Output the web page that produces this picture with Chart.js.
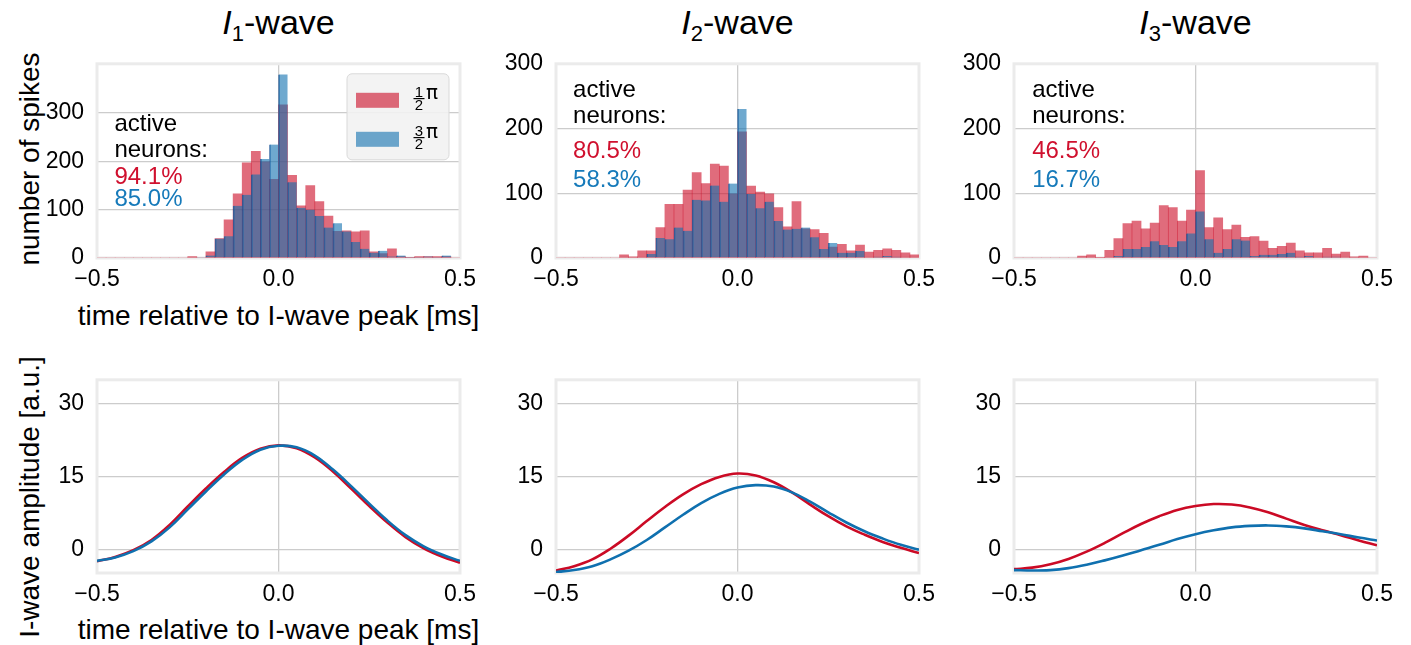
<!DOCTYPE html>
<html>
<head>
<meta charset="utf-8">
<script src="https://cdn.jsdelivr.net/npm/chart.js@4.4.0/dist/chart.umd.min.js"></script>
<style>
    body { margin: 0; background: #fff; font-family: "Liberation Sans", Arial, sans-serif; }
    #wrap { position: relative; width: 1411px; height: 645px; overflow: hidden; }
    #wrap canvas { position: absolute; }
    .ttl { position: absolute; top: 3px; width: 363px; text-align: center; font-size: 34px; line-height: 38px; color: #000; white-space: nowrap; }
    .ttl sub { font-size: 22px; vertical-align: -7px; line-height: 0; }
    .xlab { position: absolute; width: 463px; text-align: center; font-size: 28px; line-height: 32px; color: #000; white-space: nowrap; }
    .ylab { position: absolute; width: 320px; text-align: center; font-size: 28px; line-height: 32px; color: #000; white-space: nowrap; transform: rotate(-90deg); }
</style>
</head>
<body>
<div id="wrap">
    <div class="ttl" style="left:97px"><i>I</i><sub>1</sub>-wave</div>
    <div class="ttl" style="left:556px"><i>I</i><sub>2</sub>-wave</div>
    <div class="ttl" style="left:1014px"><i>I</i><sub>3</sub>-wave</div>
    <div class="xlab" style="left:47px; top:300px">time relative to I-wave peak [ms]</div>
    <div class="xlab" style="left:47px; top:614px">time relative to I-wave peak [ms]</div>
    <div class="ylab" style="left:-130px; top:143px">number of spikes</div>
    <div class="ylab" style="left:-130px; top:481px">I-wave amplitude [a.u.]</div>
</div>
<script>
// Spike time histograms (bins of 0.025 ms) and I-wave amplitude curves

const binCenters = [-0.4875, -0.4625, -0.4375, -0.4125, -0.3875, -0.3625, -0.3375, -0.3125, -0.2875, -0.2625,
    -0.2375, -0.2125, -0.1875, -0.1625, -0.1375, -0.1125, -0.0875, -0.0625, -0.0375, -0.0125,
    0.0125, 0.0375, 0.0625, 0.0875, 0.1125, 0.1375, 0.1625, 0.1875, 0.2125, 0.2375,
    0.2625, 0.2875, 0.3125, 0.3375, 0.3625, 0.3875, 0.4125, 0.4375, 0.4625, 0.4875];

// counts for stimulation phase 1/2 pi (red) and 3/2 pi (blue)
const i1Half = [0, 0, 0, 0, 0, 0, 0, 0, 0, 0, 3, 0, 13, 40, 79, 133, 197, 221, 199, 163,
    317, 171, 108, 150, 117, 87, 55, 56, 54, 56, 13, 9, 19, 3, 1, 3, 3, 3, 3, 0];
const i1ThreeHalf = [0, 0, 0, 0, 0, 0, 0, 0, 0, 0, 0, 1, 5, 40, 45, 108, 131, 173, 205, 235,
    380, 157, 104, 100, 87, 63, 72, 55, 33, 19, 11, 15, 3, 5, 1, 1, 3, 1, 5, 0];
const i2Half = [0, 0, 0, 0, 0, 0, 0, 5, 2, 11, 11, 47, 83, 83, 105, 132, 115, 145, 142, 99,
    195, 111, 102, 99, 78, 48, 87, 45, 44, 38, 17, 21, 11, 20, 9, 12, 14, 12, 8, 5];
const i2ThreeHalf = [0, 0, 0, 0, 0, 0, 0, 0, 0, 1, 6, 31, 29, 47, 42, 90, 89, 112, 87, 115,
    230, 99, 77, 87, 57, 44, 45, 47, 32, 14, 23, 8, 8, 11, 1, 2, 3, 2, 0, 0];
const i3Half = [0, 0, 0, 0, 0, 0, 0, 3, 5, 1, 12, 30, 53, 57, 45, 54, 81, 78, 57, 74,
    135, 47, 62, 44, 51, 32, 33, 26, 15, 18, 23, 11, 8, 8, 15, 6, 9, 2, 3, 0];
const i3ThreeHalf = [0, 0, 0, 0, 0, 0, 0, 0, 0, 1, 0, 3, 14, 14, 17, 26, 20, 17, 26, 38,
    72, 29, 8, 14, 29, 27, 3, 5, 5, 6, 8, 2, 3, 1, 2, 2, 0, 0, 0, 1];

const activeHalf = ['94.1%', '80.5%', '46.5%'];
const activeThreeHalf = ['85.0%', '58.3%', '16.7%'];

const waveTimes = [-0.5, -0.45, -0.4, -0.35, -0.3, -0.25, -0.2, -0.15, -0.1, -0.05, 0,
    0.05, 0.1, 0.15, 0.2, 0.25, 0.3, 0.35, 0.4, 0.45, 0.5];
const w1Half = [-2.4, -1.5, -0.1, 2.0, 5.1, 8.9, 12.6, 16.0, 18.9, 20.8, 21.5,
    20.9, 19.0, 16.1, 12.6, 9.0, 5.6, 2.6, 0.3, -1.4, -2.7];
const w1ThreeHalf = [-2.3, -1.6, -0.3, 1.7, 4.6, 8.3, 12.0, 15.5, 18.5, 20.6, 21.4,
    21.1, 19.4, 16.5, 13.1, 9.5, 6.0, 3.0, 0.7, -1.0, -2.3];
const w2Half = [-4.3, -3.4, -2.0, 0.2, 2.9, 5.9, 8.8, 11.4, 13.5, 15.0, 15.7,
    15.3, 13.9, 11.8, 9.3, 6.9, 4.8, 3.1, 1.6, 0.4, -0.7];
const w2ThreeHalf = [-4.6, -4.2, -3.4, -2.0, -0.2, 2.0, 4.6, 7.2, 9.6, 11.5, 12.8,
    13.3, 13.0, 11.8, 9.9, 7.7, 5.6, 3.8, 2.3, 1.0, 0.0];
const w3Half = [-4.0, -3.7, -3.0, -1.9, -0.4, 1.4, 3.4, 5.3, 6.9, 8.2, 9.0,
    9.4, 9.3, 8.7, 7.7, 6.4, 5.1, 4.0, 3.0, 1.9, 0.9];
const w3ThreeHalf = [-4.2, -4.3, -4.2, -3.8, -3.1, -2.2, -1.2, -0.1, 1.0, 2.2, 3.2,
    4.0, 4.6, 4.9, 5.0, 4.8, 4.4, 3.8, 3.2, 2.5, 1.9];

const xTicks = [-0.5, 0, 0.5];
const histTicks = [0, 100, 200, 300];
const waveTicks = [0, 15, 30];

// colours
const RED = 'rgb(203, 10, 37)';
const BLUE = 'rgb(15, 112, 175)';
const RED_BAR = 'rgba(203, 10, 37, 0.6)';
const BLUE_BAR = 'rgba(15, 112, 175, 0.6)';
const BLUE_EDGE = 'rgba(20, 80, 150, 0.75)';
const RED_TXT = 'rgb(208, 16, 46)';
const BLUE_TXT = 'rgb(22, 122, 186)';

// layout of the 2 x 3 grid (plot areas in page pixels)
const COL_X = [97, 556, 1014];
const PLOT_W = 363;
const ROWS = [{ top: 57, bottom: 258 }, { top: 373, bottom: 573 }];
const PAD_L = 75, PAD_T = 20, PAD_R = 30, PAD_B = 50;

Chart.defaults.font.family = '"Liberation Sans", Arial, sans-serif';
Chart.defaults.color = '#000';

const fmtX = v => (v < 0 ? '\u2212' : '') + Math.abs(v).toFixed(1);

// light frame round each plot area
const framePlugin = {
    id: 'frame',
    beforeDatasetsDraw(chart) {
        const a = chart.chartArea;
        const ctx = chart.ctx;
        ctx.save();
        ctx.strokeStyle = '#ebebeb';
        ctx.lineWidth = 3;
        ctx.strokeRect(a.left, a.top, a.right - a.left, a.bottom - a.top);
        ctx.restore();
    }
};

// "active neurons" text inside the histograms
const notesPlugin = {
    id: 'notes',
    afterDatasetsDraw(chart, args, opts) {
        if (!opts.lines) return;
        const ctx = chart.ctx;
        const x = chart.scales.x.getPixelForValue(opts.x);
        ctx.save();
        ctx.font = '24px "Liberation Sans", Arial, sans-serif';
        ctx.textAlign = 'left';
        ctx.textBaseline = 'alphabetic';
        opts.lines.forEach(l => {
            ctx.fillStyle = l.color;
            ctx.fillText(l.text, x, chart.scales.y.getPixelForValue(l.y));
        });
        ctx.restore();
    }
};

// legend with stacked fractions (1/2 pi, 3/2 pi)
const fracLegendPlugin = {
    id: 'fracLegend',
    afterDraw(chart, args, opts) {
        if (!opts.show) return;
        const ctx = chart.ctx;
        const a = chart.chartArea;
        const bx = a.right - 113, by = a.top + 10, bw = 102, bh = 86, r = 5;
        ctx.save();
        ctx.beginPath();
        ctx.moveTo(bx + r, by);
        ctx.arcTo(bx + bw, by, bx + bw, by + bh, r);
        ctx.arcTo(bx + bw, by + bh, bx, by + bh, r);
        ctx.arcTo(bx, by + bh, bx, by, r);
        ctx.arcTo(bx, by, bx + bw, by, r);
        ctx.closePath();
        ctx.fillStyle = 'rgba(242, 242, 242, 0.9)';
        ctx.fill();
        ctx.strokeStyle = '#d9d9d9';
        ctx.lineWidth = 1;
        ctx.stroke();

        // legend follows dataset order red, blue
        const items = [chart.data.datasets[1], chart.data.datasets[0]];
        items.forEach((ds, i) => {
            const cy = a.top + 36.5 + i * 39;
            ctx.fillStyle = ds.backgroundColor;
            ctx.fillRect(a.right - 104, cy - 7.5, 43, 15);
            const [num, den] = ds.label.split('/');
            const fx = a.right - 41;
            ctx.fillStyle = '#000';
            ctx.textAlign = 'center';
            ctx.textBaseline = 'alphabetic';
            ctx.font = '15px "Liberation Sans", Arial, sans-serif';
            ctx.fillText(num, fx, cy - 3.5);
            ctx.fillText(den, fx, cy + 9.5);
            ctx.fillRect(fx - 5.5, cy - 2.3, 11, 1.2);
            ctx.textAlign = 'left';
            ctx.font = '20px "DejaVu Sans", sans-serif';
            ctx.fillText('\u03c0', a.right - 34, cy - 1.5);
        });
        ctx.restore();
    }
};

function placeCanvas(col, row) {
    const rr = ROWS[row];
    const c = document.createElement('canvas');
    const w = PLOT_W + PAD_L + PAD_R;
    const h = rr.bottom - rr.top + PAD_T + PAD_B;
    c.width = w;
    c.height = h;
    c.style.left = (COL_X[col] - PAD_L) + 'px';
    c.style.top = (rr.top - PAD_T) + 'px';
    c.style.width = w + 'px';
    c.style.height = h + 'px';
    document.getElementById('wrap').appendChild(c);
    return c.getContext('2d');
}

function axes(yMin, yMax, yTicks) {
    return {
        x: {
            type: 'linear',
            min: -0.5,
            max: 0.5,
            offset: false,
            afterBuildTicks: s => { s.ticks = xTicks.map(v => ({ value: v })); },
            ticks: {
                callback: v => fmtX(v),
                padding: 8,
                font: { size: 23 },
                maxRotation: 0,
                autoSkip: false
            },
            grid: { color: '#cccccc', lineWidth: 1.3, drawTicks: false, offset: false },
            border: { display: false },
            afterFit: s => { s.height = PAD_B; }
        },
        y: {
            type: 'linear',
            min: yMin,
            max: yMax,
            afterBuildTicks: s => { s.ticks = yTicks.map(v => ({ value: v })); },
            ticks: { padding: 13, font: { size: 23 } },
            grid: { color: '#cccccc', lineWidth: 1.3, drawTicks: false },
            border: { display: false },
            afterFit: s => { s.width = PAD_L; }
        }
    };
}

const basePlugins = {
    legend: { display: false },
    tooltip: { enabled: false }
};

function histChart(col, half, threeHalf, yMax, noteX, noteYs) {
    const ctx = placeCanvas(col, 0);
    new Chart(ctx, {
        type: 'bar',
        data: {
            datasets: [{
                label: '3/2',
                data: binCenters.map((x, i) => ({ x, y: threeHalf[i] })),
                backgroundColor: BLUE_BAR,
                borderColor: BLUE_EDGE,
                borderWidth: { left: 1, right: 0, top: 0, bottom: 0 }
            }, {
                label: '1/2',
                data: binCenters.map((x, i) => ({ x, y: half[i] })),
                backgroundColor: RED_BAR,
                borderWidth: 0
            }]
        },
        options: {
            responsive: false,
            animation: false,
            layout: { padding: { top: PAD_T, right: PAD_R, left: 0, bottom: 0 } },
            datasets: { bar: { barPercentage: 1, categoryPercentage: 1, grouped: false } },
            scales: axes(0, yMax, histTicks),
            plugins: Object.assign({}, basePlugins, {
                notes: {
                    x: noteX,
                    lines: [
                        { text: 'active', color: '#000', y: noteYs[0] },
                        { text: 'neurons:', color: '#000', y: noteYs[1] },
                        { text: activeHalf[col], color: RED_TXT, y: noteYs[2] },
                        { text: activeThreeHalf[col], color: BLUE_TXT, y: noteYs[3] }
                    ]
                },
                fracLegend: { show: col === 0 }
            })
        },
        plugins: [framePlugin, notesPlugin, fracLegendPlugin]
    });
}

function waveChart(col, half, threeHalf) {
    const ctx = placeCanvas(col, 1);
    new Chart(ctx, {
        type: 'line',
        data: {
            datasets: [{
                label: '3/2',
                data: waveTimes.map((x, i) => ({ x, y: threeHalf[i] })),
                borderColor: BLUE,
                borderWidth: 2.6,
                pointRadius: 0,
                tension: 0.4
            }, {
                label: '1/2',
                data: waveTimes.map((x, i) => ({ x, y: half[i] })),
                borderColor: RED,
                borderWidth: 2.6,
                pointRadius: 0,
                tension: 0.4
            }]
        },
        options: {
            responsive: false,
            animation: false,
            layout: { padding: { top: PAD_T, right: PAD_R, left: 0, bottom: 0 } },
            scales: axes(-4.8, 35, waveTicks),
            plugins: Object.assign({}, basePlugins, { notes: {}, fracLegend: { show: false } })
        },
        plugins: [framePlugin]
    });
}

histChart(0, i1Half, i1ThreeHalf, 402, -0.452, [263, 210, 153, 107]);
histChart(1, i2Half, i2ThreeHalf, 300, -0.453, [248.5, 208.9, 154, 109.4]);
histChart(2, i3Half, i3ThreeHalf, 300, -0.45, [248.5, 208.9, 154, 109.4]);

waveChart(0, w1Half, w1ThreeHalf);
waveChart(1, w2Half, w2ThreeHalf);
waveChart(2, w3Half, w3ThreeHalf);
</script>
</body>
</html>
